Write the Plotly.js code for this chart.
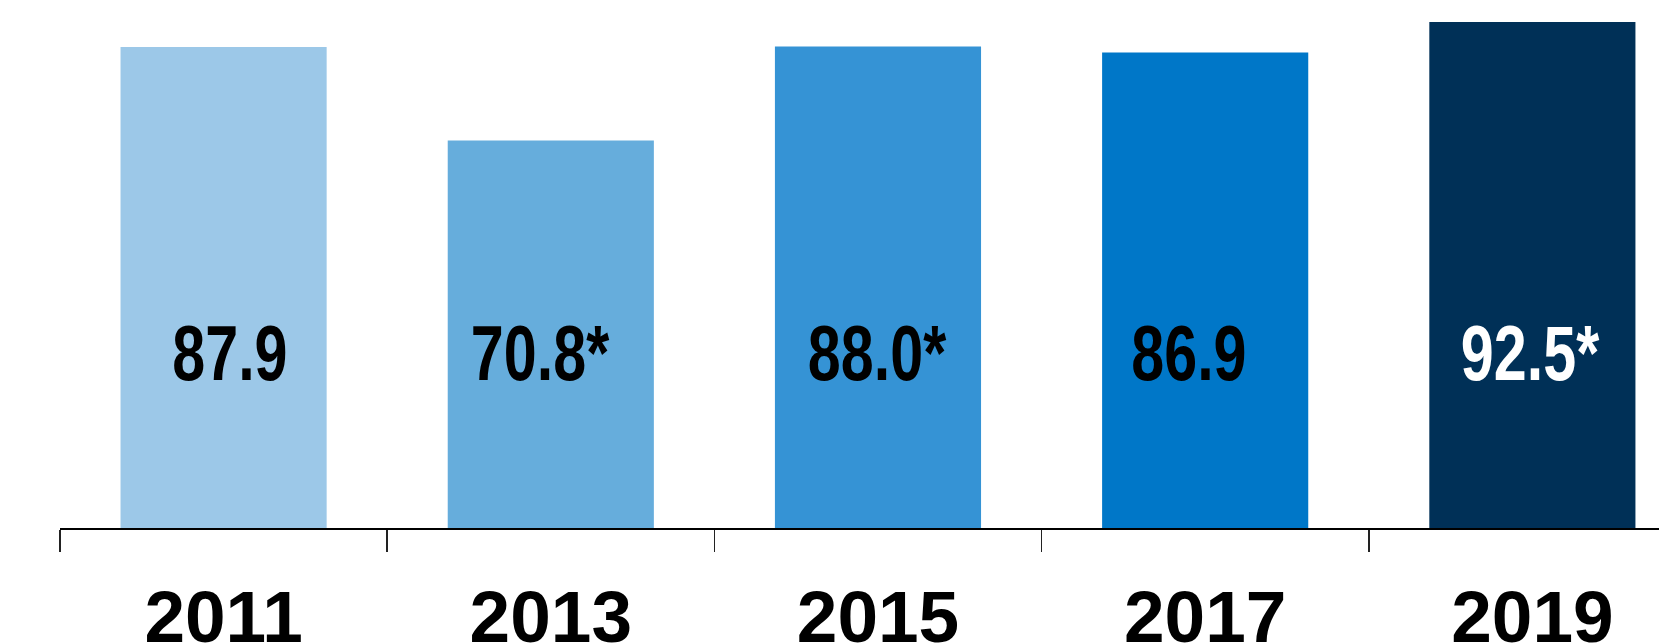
<!DOCTYPE html>
<html>
<head>
<meta charset="utf-8">
<script src="https://cdn.plot.ly/plotly-3.0.1.min.js"></script>
<style>
  html, body { margin: 0; padding: 0; background: #ffffff; }
  #chart { width: 1659px; height: 643px; }
</style>
</head>
<body>
<div id="chart"></div>
<script>
// ---- data ----
const years = ["2011", "2013", "2015", "2017", "2019"];
const values = [87.9, 70.8, 88.0, 86.9, 92.5];
const valueLabels = ["87.9", "70.8*", "88.0*", "86.9", "92.5*"];

// ---- styles ----
const barColors = ["#9CC8E8", "#66ADDC", "#3593D5", "#0077C8", "#003057"];
const labelColors = ["#000000", "#000000", "#000000", "#000000", "#ffffff"];
const labelShiftPx = [6, -10, 0, -16, -2];
const labelLevel = 32.0;      // axis units where the value labels sit
const labelCondense = 0.76;   // narrow (condensed) look of the value labels

const trace = {
  type: "bar",
  x: years,
  y: values,
  marker: { color: barColors, line: { width: 0 } },
  hoverinfo: "none",
  showlegend: false
};

// category axis: annotations are placed by category index
const annotations = years.map((yr, i) => ({
  x: years.indexOf(yr),
  y: labelLevel,
  xref: "x",
  yref: "y",
  text: "<b>" + valueLabels[i] + "</b>",
  showarrow: false,
  xshift: labelShiftPx[i],
  xanchor: "center",
  yanchor: "middle",
  font: { family: "'Liberation Sans', Arial, sans-serif", size: 78, color: labelColors[i] }
}));

const layout = {
  width: 1659,
  height: 643,
  margin: { l: 60, r: 0, t: 0, b: 115, pad: 0 },
  paper_bgcolor: "#ffffff",
  plot_bgcolor: "#ffffff",
  bargap: 0.37,
  showlegend: false,
  xaxis: {
    type: "category",
    range: [-0.5, 4.387],
    tickson: "boundaries",
    ticks: "outside",
    ticklen: 22,
    tickwidth: 1.5,
    tickcolor: "#222222",
    showline: true,
    linecolor: "#000000",
    linewidth: 2,
    showgrid: false,
    zeroline: false,
    ticklabelstandoff: 24,
    tickfont: { family: "'Liberation Sans', Arial, sans-serif", size: 73, color: "#000000", weight: "bold" },
    fixedrange: true
  },
  yaxis: {
    range: [0, 96.5],
    visible: false,
    showgrid: false,
    zeroline: false,
    fixedrange: true
  },
  annotations: annotations
};

Plotly.newPlot("chart", [trace], layout, { displayModeBar: false, staticPlot: true }).then(function (gd) {
  gd.querySelectorAll(".annotation-text").forEach(function (t) {
    t.style.transformBox = "fill-box";
    t.style.transformOrigin = "center";
    t.style.transform = "scaleX(" + labelCondense + ")";
  });
});
</script>
</body>
</html>
